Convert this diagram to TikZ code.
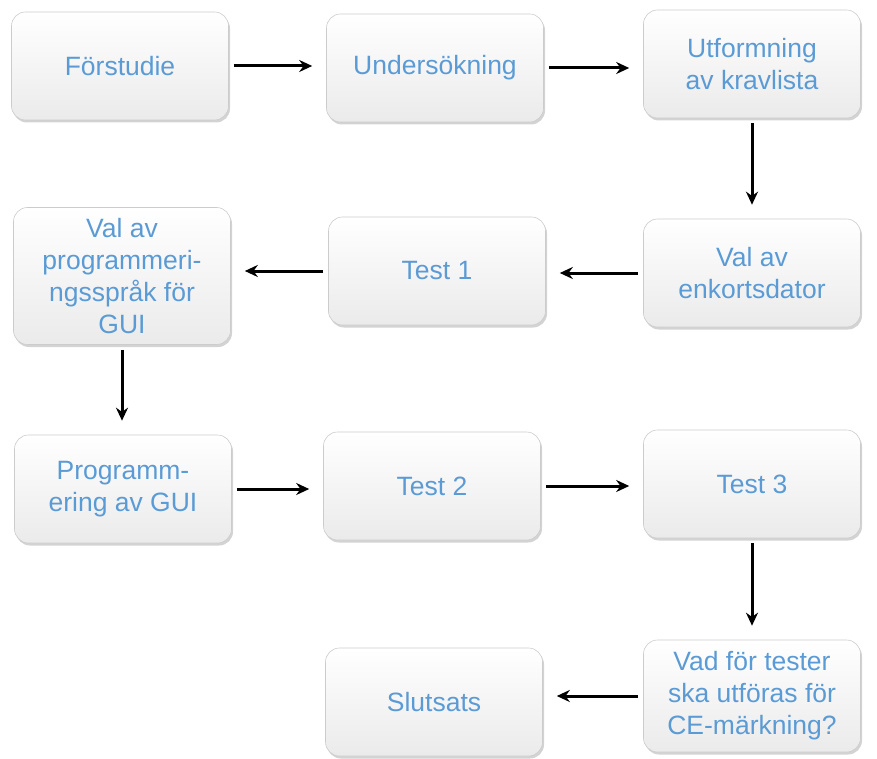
\documentclass[tikz,border=0pt]{standalone}
\usepackage{fontspec}
\setmainfont{Liberation Sans}
\usetikzlibrary{arrows.meta}
\usetikzlibrary{shadows}
\definecolor{boxtext}{RGB}{91,155,213}

\begin{document}
\begin{tikzpicture}[x = 1pt, y = -1pt]
	\tikzstyle{BoxStyle} = [rectangle, rounded corners = 14pt, minimum width = 217pt, minimum height = 108pt,
		draw = gray!40, line width = 0.6pt, top color = white, bottom color = gray!16,
		drop shadow = {shadow xshift = 1.5pt, shadow yshift = -2.5pt, opacity = 0.35},
		align = center, text = boxtext, font = \fontsize{26.5}{32}\selectfont]
	\tikzstyle{ArrowStyle} = [-{Stealth[length = 13pt, width = 12pt]}, line width = 3pt, shorten < = 5pt, shorten > = 14pt]
	\useasboundingbox (0, 0) rectangle (877, 759);
	\node[BoxStyle] (b0) at (120, 66) {Förstudie};
	\node[BoxStyle] (b1) at (435, 68) {Undersökning};
	\node[BoxStyle] (b2) at (752, 64) {Utformning\\av kravlista};
	\node[BoxStyle] (b3) at (752, 273) {Val av\\enkortsdator};
	\node[BoxStyle] (b4) at (437, 271) {Test 1};
	\node[BoxStyle, minimum height = 137pt] (b5) at (122, 276) {Val av\\programmeri-\\ngsspråk för\\GUI};
	\node[BoxStyle] (b6) at (123, 489) {Programm-\\ering av GUI};
	\node[BoxStyle] (b7) at (432, 486) {Test 2};
	\node[BoxStyle] (b8) at (752, 484) {Test 3};
	\node[BoxStyle, minimum height = 112pt] (b9) at (752, 696) {Vad för tester\\ska utföras för\\CE-märkning?};
	\node[BoxStyle] (b10) at (434, 702) {Slutsats};
	\draw[ArrowStyle] (b0.east) -- (b0.east -| b1.west);
	\draw[ArrowStyle] (b1.east) -- (b1.east -| b2.west);
	\draw[ArrowStyle] (b2.south) -- (b2.south |- b3.north);
	\draw[ArrowStyle] (b3.west) -- (b3.west -| b4.east);
	\draw[ArrowStyle] (b4.west) -- (b4.west -| b5.east);
	\draw[ArrowStyle] (b5.south) -- (b5.south |- b6.north);
	\draw[ArrowStyle] (b6.east) -- (b6.east -| b7.west);
	\draw[ArrowStyle] (b7.east) -- (b7.east -| b8.west);
	\draw[ArrowStyle] (b8.south) -- (b8.south |- b9.north);
	\draw[ArrowStyle] (b9.west) -- (b9.west -| b10.east);
\end{tikzpicture}
\end{document}
